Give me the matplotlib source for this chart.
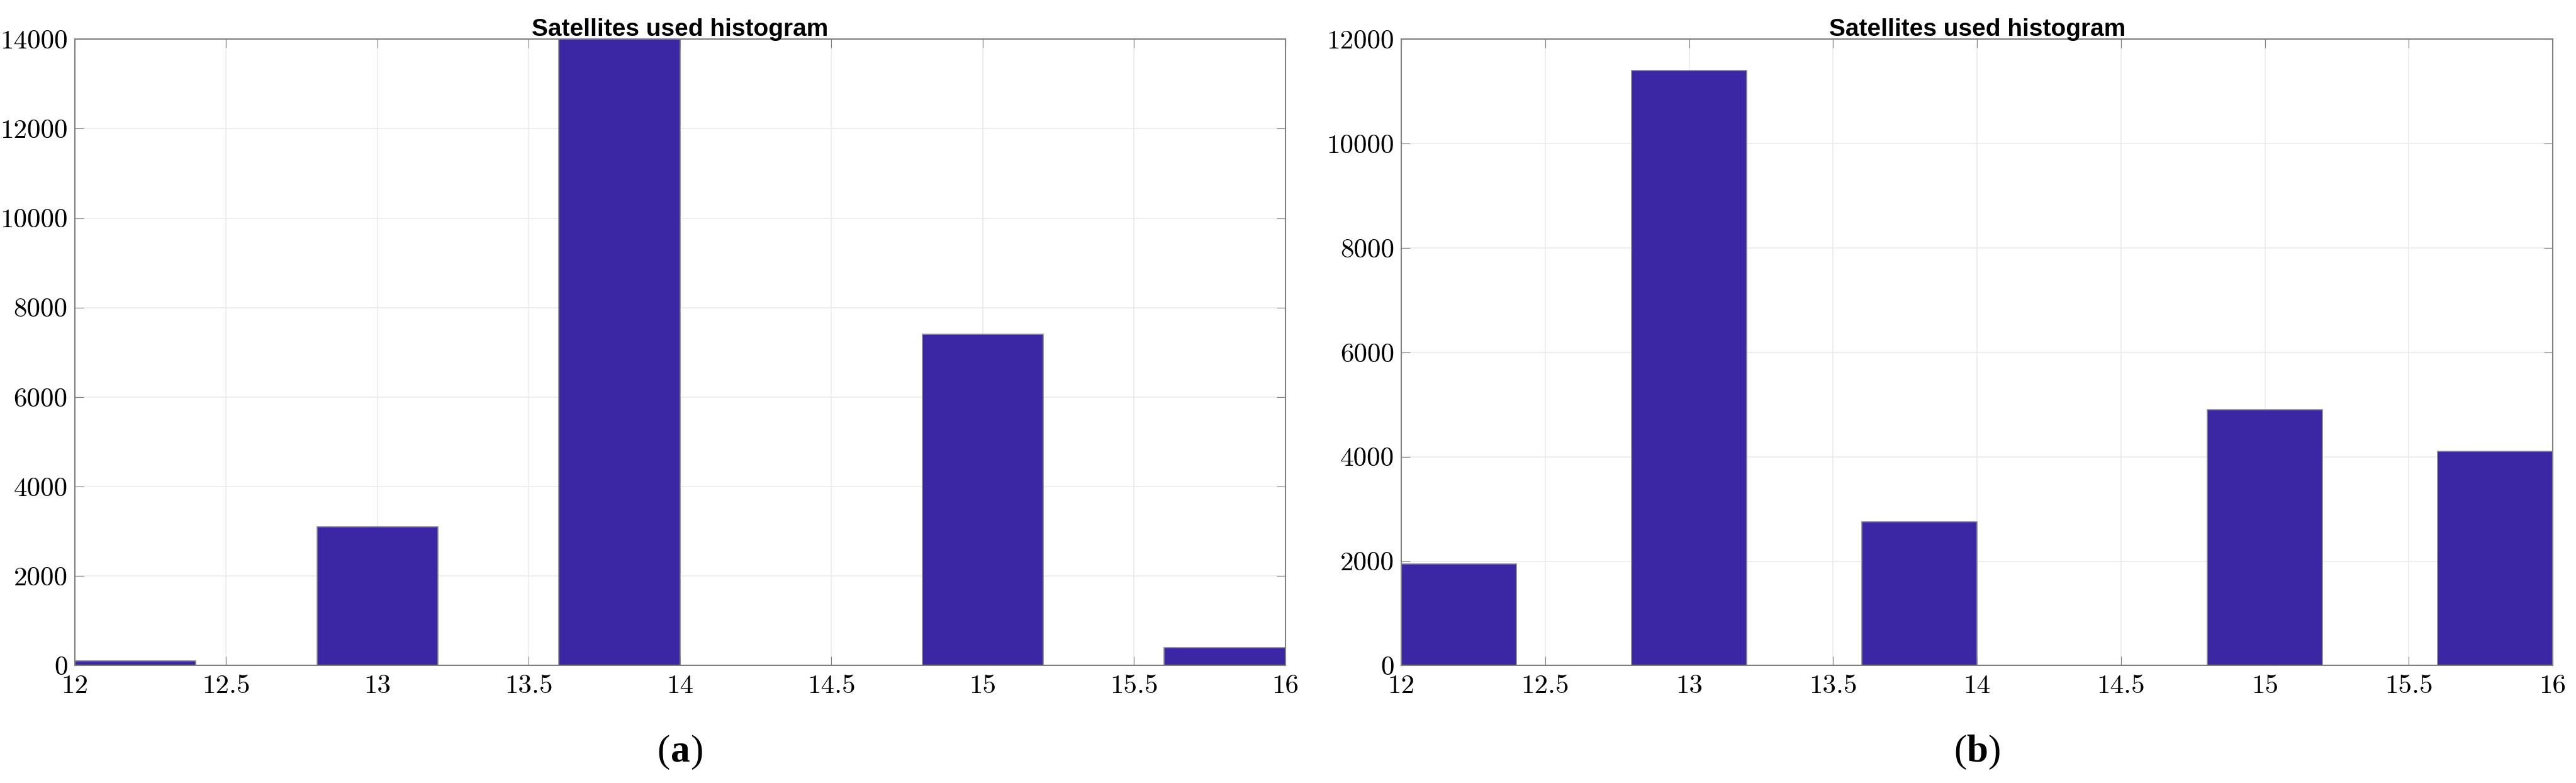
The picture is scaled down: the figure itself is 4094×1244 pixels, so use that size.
import numpy as np
from matplotlib import pyplot as plt

# histogram bins (edges 12..16, width 0.4), one bar per satellite count
bin_left = [12.0, 12.8, 13.6, 14.8, 15.6]
counts_a = [100, 3100, 14300, 7400, 400]
counts_b = [1950, 11400, 2750, 4900, 4100]
x_ticks = [12, 12.5, 13, 13.5, 14, 14.5, 15, 15.5, 16]
y_ticks_a = [0, 2000, 4000, 6000, 8000, 10000, 12000, 14000]
y_ticks_b = [0, 2000, 4000, 6000, 8000, 10000, 12000]
captions = ['a', 'b']

fig = plt.figure(figsize=(40.94, 12.44), dpi=100)
axes = [fig.add_axes([0.029, 0.15, 0.470, 0.80]),
        fig.add_axes([0.544, 0.15, 0.447, 0.80])]


def draw(ax, counts, yticks, ylim, caption):
    ax.bar(bin_left, counts, width=0.4, align='edge', color='#3b27a3',
           edgecolor='#8a8a8a', linewidth=1.2, zorder=2)
    ax.set_xlim(12, 16)
    ax.set_ylim(0, ylim)
    ax.set_xticks(x_ticks)
    ax.set_xticklabels([f'{t:g}' for t in x_ticks], fontfamily='cmr10', fontsize=31)
    ax.set_yticks(yticks)
    ax.set_yticklabels([str(t) for t in yticks], fontfamily='cmr10', fontsize=31)
    ax.grid(True, color='#ebebeb', linewidth=1.2, zorder=0)
    for s in ax.spines.values():
        s.set_color('#808080')
        s.set_linewidth(1.5)
    ax.tick_params(direction='in', length=10, color='#808080', top=True, right=True,
                   labeltop=False, labelright=False)
    ax.tick_params(axis='x', pad=10)
    ax.tick_params(axis='y', pad=8)
    ax.set_title('Satellites used histogram', fontsize=28, fontweight='bold',
                 fontfamily='Liberation Sans', pad=4)
    kw = dict(xy=(0.5, -0.11), xycoords='axes fraction', textcoords='offset points',
              va='top', fontsize=44, fontfamily='Liberation Serif')
    ax.annotate('(', xytext=(-12, 0), ha='right', **kw)
    ax.annotate(caption, xytext=(0, 0), ha='center', fontweight='bold', **kw)
    ax.annotate(')', xytext=(12, 0), ha='left', **kw)


draw(axes[0], counts_a, y_ticks_a, 14000, captions[0])
draw(axes[1], counts_b, y_ticks_b, 12000, captions[1])

fig.savefig('out.png', dpi=100)
